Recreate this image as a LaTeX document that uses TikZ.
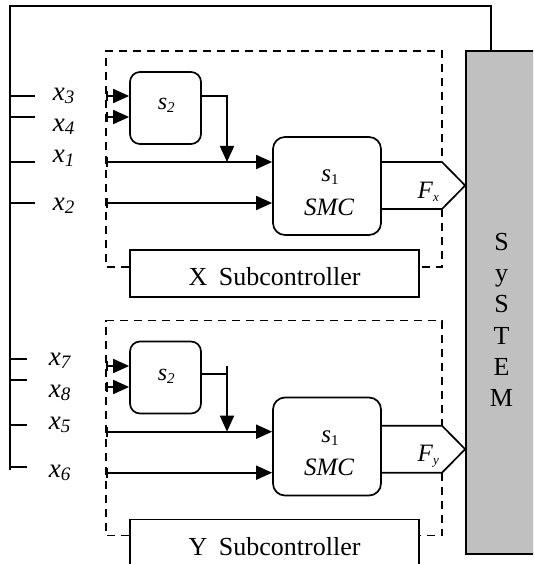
\documentclass[tikz,border=0pt]{standalone}
\usepackage{fontspec}
\setmainfont{Liberation Serif}
\usepackage{tikz}
\usetikzlibrary{arrows.meta,positioning}
\definecolor{SysGray}{RGB}{192,192,192}
\newcommand{\xin}[1]{\textit{x}\raisebox{-3pt}{\fontsize{19}{19}\selectfont\textit{#1}}}
\newcommand{\sname}[1]{\textit{s}\raisebox{-3pt}{\fontsize{15}{15}\selectfont #1}}
\newcommand{\fname}[1]{\textit{F}\raisebox{-3pt}{\fontsize{13}{13}\selectfont\textit{#1}}}

\begin{document}
\begin{tikzpicture}[
 x=1pt, y=-1pt,
 line width=1.7pt,
 block/.style={draw, rounded corners=10pt, minimum width=71pt, minimum height=72pt, inner sep=0pt},
 smcbox/.style={draw, rounded corners=12pt, minimum width=108pt, minimum height=98pt, inner sep=0pt},
 subbox/.style={draw, fill=white, minimum width=289pt, minimum height=47pt, inner sep=0pt, text height=24pt, text depth=0pt},
 sysbox/.style={draw, fill=SysGray, minimum width=79pt, minimum height=503pt, inner sep=0pt},
 frame/.style={line width=1.5pt, dash pattern=on 8pt off 6pt},
 sig/.style={{Bar[width=10pt]}-{Triangle[length=16pt,width=14pt]}},
 down/.style={-{Triangle[length=16pt,width=14pt]}},
 lbl/.style={anchor=base west, inner sep=0pt},
 font=\fontsize{26}{31}\selectfont
]
\useasboundingbox (0,0) rectangle (533,564);
\clip (0,0) rectangle (533,564);

\node[sysbox] (sys) at (505.5,302.5) {};
\node[align=center, inner sep=0pt, font=\fontsize{26}{31.3}\selectfont] (syslbl) at (501.5,320) {S\\y\\S\\T\\E\\M};

\node[block] (s2x) at (165.5,108) {};
\node[block] (s2y) at (165.5,377.5) {};
\node[smcbox] (s1x) at (327,186) {};
\node[smcbox] (s1y) at (327,446.5) {};
\node[subbox] (subx) at (274.5,273.3) {X\hspace{0.45em}Subcontroller};
\node[subbox] (suby) at (274.5,543) {Y\hspace{0.45em}Subcontroller};

\node[lbl] (ls2x) at (157,110) {\fontsize{24}{24}\selectfont\sname{\textit{2}}};
\node[lbl] (ls2y) at (157,380) {\fontsize{24}{24}\selectfont\sname{\textit{2}}};
\node[lbl] (ls1x) at (320.5,181.7) {\fontsize{25}{25}\selectfont\sname{1}};
\node[lbl] (ls1y) at (320.5,442.2) {\fontsize{25}{25}\selectfont\sname{1}};
\node[lbl] (smcx) at (303.3,215) {\fontsize{25}{25}\selectfont\textit{SMC}};
\node[lbl] (smcy) at (303.3,475.7) {\fontsize{25}{25}\selectfont\textit{SMC}};
\node[lbl] (lfx) at (416.7,198.3) {\fontsize{25}{25}\selectfont\fname{x}};
\node[lbl] (lfy) at (416.7,461.7) {\fontsize{25}{25}\selectfont\fname{y}};

\foreach \n/\y in {3/100.7,4/131.7,1/163,2/210} \node[lbl, font=\fontsize{27}{27}\selectfont] (lx\n) at (52,\y) {\xin{\n}};
\foreach \n/\y in {7/365,8/397,5/429,6/477} \node[lbl, font=\fontsize{27}{27}\selectfont] (lx\n) at (48,\y) {\xin{\n}};

\foreach \n/\y in {3/96,4/117,1/162,2/203,7/366,8/387,5/431.7,6/472.7} \coordinate (t\n) at (106,\y);
\coordinate (busend) at (10,470);
\coordinate (fb) at (491,6);
\coordinate (jx) at (227,162);
\coordinate (jyt) at (227,366);
\coordinate (jy) at (227,431.7);
\coordinate (oy) at (201,374);

\draw (busend) |- (fb) -- (fb |- sys.north);
\foreach \y in {96,117,162,203} \draw (10,\y) -- (35,\y);
\foreach \y in {359,380,425,467} \draw (10,\y) -- (27,\y);

\draw[sig] (t3) -- (t3 -| s2x.west);
\draw[sig] (t4) -- (t4 -| s2x.west);
\draw[sig] (t1) -- (t1 -| s1x.west);
\draw[sig] (t2) -- (t2 -| s1x.west);
\draw[down] (t3 -| s2x.east) -| (jx);

\draw[sig] (t7) -- (t7 -| s2y.west);
\draw[sig] (t8) -- (t8 -| s2y.west);
\draw[sig] (t5) -- (t5 -| s1y.west);
\draw[sig] (t6) -- (t6 -| s1y.west);
\draw (oy) -- (oy -| jy);
\draw[down] (jyt) -- (jy);

\draw (s1x.east |- t1) -- (442,162) -- (sys.west |- 0,185.5) -- (442,209) -- (442,209 -| s1x.east);
\draw (s1y.east |- 0,425.7) -- (442,425.7) -- (sys.west |- 0,449.2) -- (442,472.7) -- (442,472.7 -| s1y.east);

\draw[frame] (subx.west |- 0,267) -- (106,267) -- (106,51) -- (442,51) -- (442,162);
\draw[frame] (442,209) -- (442,267) -- (subx.east |- 0,267);
\draw[frame] (suby.west |- 0,535.7) -- (106,535.7) -- (106,320.7) -- (442,320.7) -- (442,425.7);
\draw[frame] (442,472.7) -- (442,535.7) -- (suby.east |- 0,535.7);
\end{tikzpicture}
\end{document}
